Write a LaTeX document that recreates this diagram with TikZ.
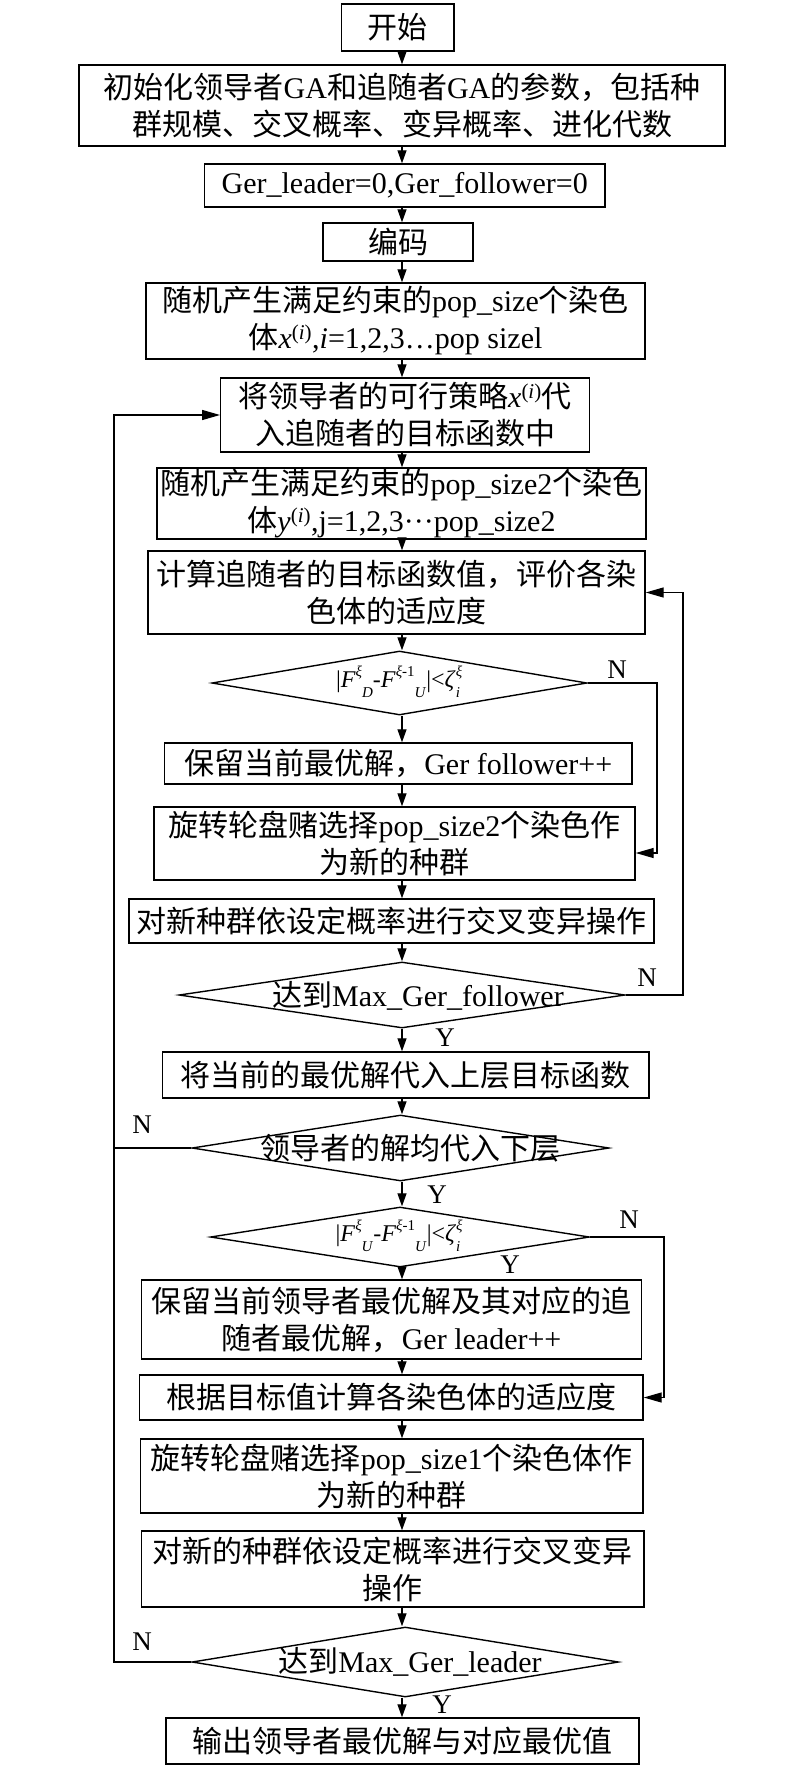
\documentclass[tikz,border=0pt]{standalone}
\usepackage{fontspec}
\setmainfont{Liberation Serif}
\newfontfamily\cjk{Noto Sans CJK SC}
\usetikzlibrary{shapes.geometric,arrows.meta}
\newcommand\zh[1]{{\cjk #1}}
\newcommand\myfsub[1]{\raisebox{-9.5pt}{\fontsize{15pt}{15pt}\selectfont\textit{#1}}}
\newcommand\myfsup[1]{\raisebox{11pt}{\fontsize{15pt}{15pt}\selectfont #1}}
\begin{document}
\begin{tikzpicture}[x=1pt,y=-1pt,
  wh/.style 2 args={minimum width=#1pt,minimum height=#2pt},
  box/.style={draw,line width=1.4pt,inner sep=0pt,align=center,font=\fontsize{30pt}{37pt}\selectfont},
  dia/.style={draw,diamond,line width=1.4pt,inner sep=0pt},
  txt/.style={inner sep=0pt,align=center,font=\fontsize{30pt}{37pt}\selectfont},
  fml/.style={inner sep=0pt,font=\fontsize{24pt}{24pt}\selectfont},
  arr/.style={line width=1.3pt,-{Triangle[length=13pt,width=9pt]}},
  sarr/.style={line width=1.3pt,-{Triangle[length=18pt,width=10pt]}},
  ln/.style={line width=1.3pt},
  lab/.style={inner sep=0pt,font=\fontsize{27pt}{27pt}\selectfont}]
\fill[white] (0,0) rectangle (800,1771);
\useasboundingbox (0,0) rectangle (800,1771);
\coordinate (ax) at (402,0);
\coordinate (L) at (114,0);
\coordinate (R1) at (657,853);
\coordinate (R2) at (683,0);
\coordinate (R4) at (664,0);

\node[box,wh={112.5}{47}] (start) at (397.75,27.5) {\zh{开始}};
\node[box,wh={646}{81}] (init) at (402,105.5) {\zh{初始化领导者}GA\zh{和追随者}GA\zh{的参数，包括种}\\\zh{群规模、交叉概率、变异概率、进化代数}};
\node[box,wh={400.5}{43}] (ger) at (404.75,185.5) {Ger\_leader=0,Ger\_follower=0};
\node[box,wh={150}{38}] (code) at (398,242) {\zh{编码}};
\node[box,wh={499}{76}] (rand1) at (395.5,321) {\zh{随机产生满足约束的}pop\_size\zh{个染色}\\\zh{体}\textit{x}\textsuperscript{(\textit{i})},\textit{i}=1,2,3…pop sizel};
\node[box,wh={368.5}{74}] (sub) at (405,415) {\zh{将领导者的可行策略}\textit{x}\textsuperscript{(\textit{i})}\zh{代}\\\zh{入追随者的目标函数中}};
\node[box,wh={489}{71}] (rand2) at (401.5,503.5) {\zh{随机产生满足约束的}pop\_size2\zh{个染色}\\\zh{体}\textit{y}\textsuperscript{(\textit{i})},j=1,2,3···pop\_size2};
\node[box,wh={497}{83}] (calc) at (396.5,592.5) {\zh{计算追随者的目标函数值，评价各染}\\\zh{色体的适应度}};
\node[dia,wh={375}{64}] (d1) at (399.5,683) {};
\node[fml] (f1) at (398,682) {|\textit{F}\myfsup{\textit{ξ}}\myfsub{D}-\textit{F}\myfsup{\textit{ξ}-1}\myfsub{U}|<\textit{ζ}\rlap{\myfsup{\textit{ξ}}}\myfsub{i}};
\node[box,wh={467.4}{41}] (keep1) at (398.3,763.5) {\zh{保留当前最优解，}Ger follower++};
\node[box,wh={481}{73}] (rot1) at (394.5,843.5) {\zh{旋转轮盘赌选择}pop\_size2\zh{个染色作}\\\zh{为新的种群}};
\node[box,wh={525}{44}] (cross1) at (391.5,921) {\zh{对新种群依设定概率进行交叉变异操作}};
\node[dia,wh={446}{66}] (d2) at (402,995) {};
\node[txt] (t2) at (418,996) {\zh{达到}Max\_Ger\_follower};
\node[box,wh={486.4}{46}] (upper) at (405.8,1075) {\zh{将当前的最优解代入上层目标函数}};
\node[dia,wh={417}{66}] (d3) at (400.5,1148) {};
\node[txt] (t3) at (410,1148) {\zh{领导者的解均代入下层}};
\node[dia,wh={379}{60}] (d4) at (400,1237) {};
\node[fml] (f4) at (398,1236) {|\textit{F}\myfsup{\textit{ξ}}\myfsub{U}-\textit{F}\myfsup{\textit{ξ}-1}\myfsub{U}|<\textit{ζ}\rlap{\myfsup{\textit{ξ}}}\myfsub{i}};
\node[box,wh={500}{79}] (keep2) at (391.6,1319.5) {\zh{保留当前领导者最优解及其对应的追}\\\zh{随者最优解，}Ger leader++};
\node[box,wh={503.4}{45}] (fit) at (391.3,1397.5) {\zh{根据目标值计算各染色体的适应度}};
\node[box,wh={502.4}{74}] (rot2) at (391.8,1476) {\zh{旋转轮盘赌选择}pop\_size1\zh{个染色体作}\\\zh{为新的种群}};
\node[box,wh={502.4}{76}] (cross2) at (392.8,1569) {\zh{对新的种群依设定概率进行交叉变异}\\\zh{操作}};
\node[dia,wh={426.6}{70}] (d5) at (405.3,1662) {};
\node[txt] (t5) at (410,1662) {\zh{达到}Max\_Ger\_leader};
\node[box,wh={473}{46}] (out) at (402.5,1741) {\zh{输出领导者最优解与对应最优值}};

\foreach \a/\b in {start/init,init/ger,ger/code,code/rand1,rand1/sub,sub/rand2,rand2/calc,calc/d1,d1/keep1,keep1/rot1,rot1/cross1,cross1/d2,d2/upper,upper/d3,d3/d4,d4/keep2,keep2/fit,fit/rot2,rot2/cross2,cross2/d5,d5/out}
  \draw[arr] (\a.south -| ax) -- (\b.north -| ax);

\draw[sarr] (d1.east) -| (R1) -- (R1 -| rot1.east);
\draw[sarr] (d2.east) -- (d2.east -| R2) |- (calc.east);
\draw[sarr] (d3.west) -- (d3.west -| L) |- (sub.west);
\draw[ln] (d5.west) -- (d5.west -| L) -- (d3.west -| L);
\draw[sarr] (d4.east) -- (d4.east -| R4) |- (fit.east);

\node[lab] (n1) at (617,670) {N};
\node[lab] (n2) at (647,978) {N};
\node[lab] (y2) at (445,1038) {Y};
\node[lab] (n3) at (142,1125) {N};
\node[lab] (y3) at (437,1195) {Y};
\node[lab] (n4) at (629,1220) {N};
\node[lab] (y4) at (510,1265) {Y};
\node[lab] (n5) at (142,1642) {N};
\node[lab] (y5) at (442,1705) {Y};
\end{tikzpicture}
\end{document}
